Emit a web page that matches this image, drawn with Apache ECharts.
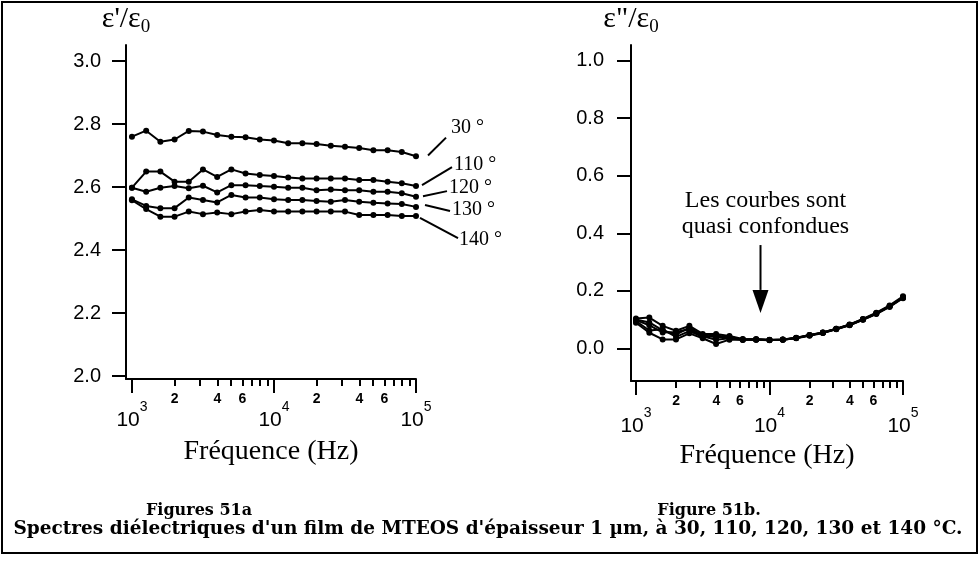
<!DOCTYPE html>
<html>
<head>
<meta charset="utf-8">
<script src="https://cdn.jsdelivr.net/npm/echarts@6/dist/echarts.min.js"></script>
<style>
  html, body { margin: 0; padding: 0; background: #fff; }
  #wrap { position: relative; width: 979px; height: 565px; }
  #chart { position: absolute; left: 0; top: 0; width: 979px; height: 565px; }
  #frame { position: absolute; left: 1px; top: 1px; width: 977px; height: 553px; box-sizing: border-box; border: 2px solid #000; pointer-events: none; }
</style>
</head>
<body>
<div id="wrap"><div id="chart"></div><div id="frame"></div></div>
<script>
// ---- data ----
const freq = [1000, 1259, 1585, 1995, 2512, 3162, 3981, 5012, 6310, 7943, 10000, 12589, 15849, 19953, 25119, 31623, 39811, 50119, 63096, 79433, 100000];

const eps30  = [2.760, 2.779, 2.744, 2.751, 2.778, 2.776, 2.765, 2.760, 2.758, 2.751, 2.748, 2.739, 2.739, 2.737, 2.731, 2.728, 2.724, 2.717, 2.717, 2.711, 2.698];
const eps110 = [2.598, 2.649, 2.649, 2.617, 2.617, 2.656, 2.632, 2.656, 2.643, 2.638, 2.635, 2.630, 2.627, 2.627, 2.627, 2.627, 2.622, 2.622, 2.617, 2.612, 2.603];
const eps120 = [2.598, 2.585, 2.598, 2.603, 2.596, 2.604, 2.583, 2.606, 2.606, 2.603, 2.601, 2.598, 2.598, 2.590, 2.592, 2.590, 2.590, 2.585, 2.585, 2.580, 2.569];
const eps130 = [2.561, 2.540, 2.533, 2.533, 2.567, 2.559, 2.551, 2.575, 2.567, 2.567, 2.561, 2.559, 2.559, 2.556, 2.553, 2.559, 2.553, 2.550, 2.548, 2.546, 2.537];
const eps140 = [2.558, 2.530, 2.506, 2.506, 2.522, 2.514, 2.519, 2.514, 2.522, 2.527, 2.522, 2.522, 2.522, 2.522, 2.522, 2.522, 2.511, 2.511, 2.511, 2.508, 2.508];

const loss30  = [0.104, 0.107, 0.078, 0.061, 0.078, 0.050, 0.050, 0.043, 0.032, 0.031, 0.029, 0.030, 0.036, 0.045, 0.054, 0.067, 0.081, 0.100, 0.121, 0.146, 0.177];
const loss110 = [0.089, 0.054, 0.031, 0.031, 0.052, 0.035, 0.015, 0.030, 0.030, 0.030, 0.028, 0.031, 0.037, 0.046, 0.055, 0.068, 0.083, 0.102, 0.124, 0.149, 0.181];
const loss120 = [0.100, 0.090, 0.062, 0.048, 0.072, 0.045, 0.038, 0.040, 0.031, 0.032, 0.030, 0.030, 0.035, 0.044, 0.053, 0.066, 0.080, 0.099, 0.119, 0.144, 0.174];
const loss130 = [0.095, 0.062, 0.066, 0.040, 0.060, 0.040, 0.045, 0.037, 0.031, 0.030, 0.029, 0.031, 0.036, 0.045, 0.055, 0.068, 0.082, 0.101, 0.122, 0.147, 0.178];
const loss140 = [0.098, 0.080, 0.055, 0.057, 0.066, 0.042, 0.030, 0.035, 0.029, 0.031, 0.029, 0.030, 0.036, 0.046, 0.054, 0.067, 0.081, 0.100, 0.121, 0.146, 0.176];

const seriesNames = ['30 °', '110 °', '120 °', '130 °', '140 °'];

// ---- ticks ----
const majorTickValues = [1000, 10000, 100000];
const majorLabelBase = ['10', '10', '10'];
const majorLabelExp = ['3', '4', '5'];
const minorTickValues = [2000, 3000, 4000, 5000, 6000, 7000, 8000, 9000, 20000, 30000, 40000, 50000, 60000, 70000, 80000, 90000];
const minorLabelValues = [2000, 4000, 6000, 20000, 40000, 60000];
const minorLabelTexts = ['2', '4', '6', '2', '4', '6'];
const yTicksA = [2.0, 2.2, 2.4, 2.6, 2.8, 3.0];
const yTicksB = [0.0, 0.2, 0.4, 0.6, 0.8, 1.0];

// ---- annotations (data coordinates) ----
const leftLeaders = [
  [[121500, 2.700], [162700, 2.757]],
  [[110200, 2.606], [179300, 2.6635]],
  [[112000, 2.571], [165300, 2.587]],
  [[115700, 2.543], [173600, 2.524]],
  [[106700, 2.502], [197600, 2.438]]
];
const leftLabelAnchors = [[176400, 2.787], [185200, 2.670], [170800, 2.597], [179300, 2.527], [200800, 2.432]];
const leftLabelTexts = ['30 °', '110 °', '120 °', '130 °', '140 °'];
const arrowTop = [8566, 0.359];
const arrowBase = [8566, 0.203];
const arrowTip = [8566, 0.123];
const noteAnchor = [9333, 0.467];
const noteText = 'Les courbes sont\nquasi confondues';

// ---- helpers ----
function nearestIndex(arr, v) {
  let best = 0;
  for (let i = 1; i < arr.length; i++) {
    if (Math.abs(Math.log(arr[i]) - Math.log(v)) < Math.abs(Math.log(arr[best]) - Math.log(v))) best = i;
  }
  return best;
}
const black = '#000';
const sans = 'Liberation Sans';
const serif = 'Liberation Serif';

function majorX(gridIndex, min, labelMargin, nameGap) {
  return {
    type: 'log', logBase: 10, gridIndex, min, max: 100000, position: 'bottom',
    axisLine: { show: true, onZero: false, lineStyle: { color: black, width: 2 } },
    axisTick: { show: true, customValues: majorTickValues, length: 14, lineStyle: { color: black, width: 2 } },
    axisLabel: {
      customValues: majorTickValues, margin: labelMargin, color: black,
      formatter: v => { const i = nearestIndex(majorTickValues, v); return '{b|' + majorLabelBase[i] + '}{s|' + majorLabelExp[i] + '}'; },
      rich: {
        b: { fontFamily: sans, fontSize: 21, lineHeight: 40, color: black },
        s: { fontFamily: sans, fontSize: 14, lineHeight: 12, verticalAlign: 'top', color: black }
      }
    },
    splitLine: { show: false }, minorTick: { show: false },
    name: 'Fréquence (Hz)', nameLocation: 'middle', nameGap,
    nameTextStyle: { fontFamily: serif, fontSize: 28, color: black }
  };
}
function minorX(gridIndex, min, labelMargin) {
  return {
    type: 'log', logBase: 10, gridIndex, min, max: 100000, position: 'bottom',
    axisLine: { show: false, onZero: false },
    axisTick: { show: true, customValues: minorTickValues, length: 7, lineStyle: { color: black, width: 2 } },
    axisLabel: {
      customValues: minorLabelValues, margin: labelMargin, color: black,
      fontFamily: sans, fontSize: 14, fontWeight: 'bold',
      formatter: v => minorLabelTexts[nearestIndex(minorLabelValues, v)]
    },
    splitLine: { show: false }, minorTick: { show: false }
  };
}
function yAx(gridIndex, min, max, ticks, name, margin) {
  return {
    type: 'value', gridIndex, min, max,
    axisLine: { show: true, onZero: false, lineStyle: { color: black, width: 2 } },
    axisTick: { show: true, customValues: ticks, length: 14, lineStyle: { color: black, width: 2 } },
    axisLabel: { customValues: ticks, margin, color: black, fontFamily: sans, fontSize: 20, formatter: v => v.toFixed(1) },
    splitLine: { show: false },
    name: '{m|' + name + '}{s|0}', nameLocation: 'end', nameGap: 8,
    nameTextStyle: {
      rich: {
        m: { fontFamily: serif, fontSize: 30, lineHeight: 36, color: black },
        s: { fontFamily: serif, fontSize: 19, lineHeight: 19, verticalAlign: 'bottom', color: black }
      }
    }
  };
}
function lineSeries(name, xi, yi, values) {
  return {
    type: 'line', name, xAxisIndex: xi, yAxisIndex: yi,
    data: freq.map((f, i) => [f, values[i]]),
    symbol: 'circle', symbolSize: 6, showSymbol: true,
    lineStyle: { color: black, width: 2 }, itemStyle: { color: black },
    emphasis: { disabled: true }
  };
}

const chart = echarts.init(document.getElementById('chart'), null, { renderer: 'canvas' });
const capStyle = { fontFamily: 'DejaVu Serif', fontWeight: 'bold', fontSize: 18.5, color: black };
const figStyle = { fontFamily: 'DejaVu Serif', fontWeight: 'bold', fontSize: 16, color: black };
chart.setOption({
  animation: false,
  backgroundColor: 'transparent',
  title: [
    { text: 'Figures 51a', left: 199, top: 511, textAlign: 'center', textVerticalAlign: 'middle', padding: 0, textStyle: figStyle },
    { text: 'Figure 51b.', left: 709, top: 511, textAlign: 'center', textVerticalAlign: 'middle', padding: 0, textStyle: figStyle },
    { text: "Spectres diélectriques d'un film de MTEOS d'épaisseur 1 µm, à 30, 110, 120, 130 et 140 °C.", left: 488, top: 529, textAlign: 'center', textVerticalAlign: 'middle', padding: 0, textStyle: capStyle }
  ],
  grid: [
    { left: 126, top: 45, width: 290, height: 334 },
    { left: 631, top: 45, width: 272, height: 336 }
  ],
  xAxis: [
    majorX(0, 908, 21, 59),
    minorX(0, 908, 13),
    majorX(1, 918, 25, 57),
    minorX(1, 918, 13)
  ],
  yAxis: [
    yAx(0, 1.9905, 3.051, yTicksA, "ε'/ε", 25),
    yAx(1, -0.1137, 1.0546, yTicksB, 'ε"/ε', 27)
  ],
  series: [
    lineSeries(seriesNames[0], 0, 0, eps30),
    lineSeries(seriesNames[1], 0, 0, eps110),
    lineSeries(seriesNames[2], 0, 0, eps120),
    lineSeries(seriesNames[3], 0, 0, eps130),
    lineSeries(seriesNames[4], 0, 0, eps140),
    lineSeries(seriesNames[0], 2, 1, loss30),
    lineSeries(seriesNames[1], 2, 1, loss110),
    lineSeries(seriesNames[2], 2, 1, loss120),
    lineSeries(seriesNames[3], 2, 1, loss130),
    lineSeries(seriesNames[4], 2, 1, loss140)
  ]
});

// annotations positioned through the chart's own scales
const finderA = { xAxisIndex: 0, yAxisIndex: 0 };
const finderB = { xAxisIndex: 2, yAxisIndex: 1 };
const px = (f, p) => chart.convertToPixel(f, p);
const graphics = [];
leftLeaders.forEach(seg => {
  const a = px(finderA, seg[0]), b = px(finderA, seg[1]);
  graphics.push({ type: 'line', shape: { x1: a[0], y1: a[1], x2: b[0], y2: b[1] }, style: { stroke: black, lineWidth: 2 } });
});
leftLabelAnchors.forEach((p, i) => {
  const a = px(finderA, p);
  graphics.push({ type: 'text', x: a[0], y: a[1], style: { text: leftLabelTexts[i], fill: black, font: '20px "Liberation Serif"', align: 'left', verticalAlign: 'middle' } });
});
const at = px(finderB, arrowTop), ab = px(finderB, arrowBase), ap = px(finderB, arrowTip);
graphics.push({ type: 'line', shape: { x1: at[0], y1: at[1], x2: ab[0], y2: ab[1] }, style: { stroke: black, lineWidth: 2 } });
graphics.push({ type: 'polygon', shape: { points: [[ab[0] - 8, ab[1]], [ab[0] + 8, ab[1]], [ap[0], ap[1]]] }, style: { fill: black } });
const na = px(finderB, noteAnchor);
graphics.push({ type: 'text', x: na[0], y: na[1], style: { text: noteText, fill: black, font: '24px "Liberation Serif"', lineHeight: 26, align: 'center', verticalAlign: 'middle' } });
chart.setOption({ graphic: graphics });
</script>
</body>
</html>
